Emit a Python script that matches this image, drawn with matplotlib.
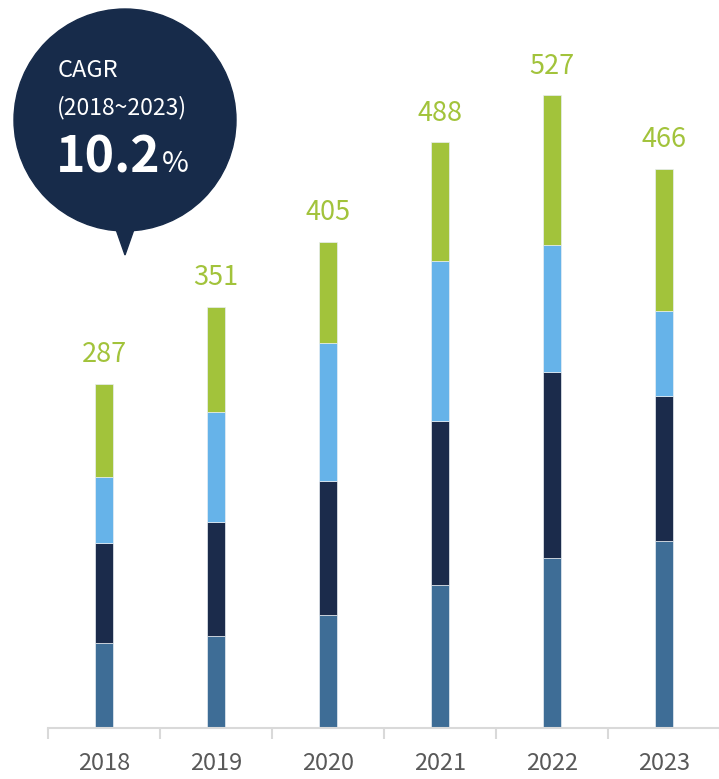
import matplotlib
matplotlib.use("Agg")
import matplotlib.pyplot as plt
from matplotlib.patches import Circle, Polygon
import numpy as np

plt.rcParams['font.family'] = ['Noto Sans CJK KR', 'DejaVu Sans']

years = ["2018", "2019", "2020", "2021", "2022", "2023"]
seg_bottom = [71, 77, 94, 119, 142, 156]
seg_navy = [83, 95, 112, 137, 155, 121]
seg_light = [55, 91, 115, 133, 105, 70]
seg_green = [78, 88, 84, 99, 125, 119]
totals = [287, 351, 405, 488, 527, 466]

colors = ["#3e6d96", "#1b2b4b", "#66b3e9", "#a2c33b"]
W, H = 719, 779

fig = plt.figure(figsize=(W / 100, H / 100), dpi=100)
ax = fig.add_axes([48 / W, 51 / H, 672 / W, 728 / H])

x = np.arange(len(years))
bottom = np.zeros(len(years))
for seg, c in zip([seg_bottom, seg_navy, seg_light, seg_green], colors):
    ax.bar(x, seg, width=0.16, bottom=bottom, color=c, edgecolor="#e8eef3", linewidth=0.5)
    bottom += np.array(seg)

for xi, t in zip(x, totals):
    ax.text(xi, t + 13, str(t), ha="center", va="bottom", fontsize=19.5, color="#a2c33b")

ax.set_xlim(-0.5, 5.5)
ax.set_ylim(0, 606.5)
ax.set_yticks([])
for s in ["top", "right", "left"]:
    ax.spines[s].set_visible(False)
ax.spines["bottom"].set_color("#d9d9d9")
ax.spines["bottom"].set_linewidth(1.5)

ax.set_xticks(np.arange(-0.5, 5.6, 1.0))
ax.set_xticklabels([])
ax.tick_params(axis="x", which="major", length=8, width=1.5, color="#d9d9d9")
ax.set_xticks(x, minor=True)
ax.set_xticklabels(years, minor=True)
ax.tick_params(axis="x", which="minor", length=0, pad=17, labelsize=17, labelcolor="#595959")

# CAGR bubble, drawn in pixel coords on an overlay
ov = fig.add_axes([0, 0, 1, 1])
ov.set_xlim(0, W)
ov.set_ylim(H, 0)
ov.axis("off")
bubble = "#172b4a"
ov.add_patch(Circle((125, 120), 111, color=bubble))
ov.add_patch(Polygon([[111, 215], [139, 215], [125, 255]], closed=True, color=bubble))
ov.text(58, 77, "CAGR", fontsize=17, color="white", va="baseline")
ov.text(57, 114, "(2018~2023)", fontsize=16.5, color="white", va="baseline")
big = ov.text(56, 172, "10.2", fontsize=36, fontweight="bold", color="white", va="baseline")

fig.canvas.draw()
bb = big.get_window_extent()
px = ov.transData.inverted().transform((bb.x1, bb.y0))[0]
ov.text(px + 1, 172, "%", fontsize=21, fontweight="medium", color="white", va="baseline")

fig.savefig("out.png", dpi=100)
